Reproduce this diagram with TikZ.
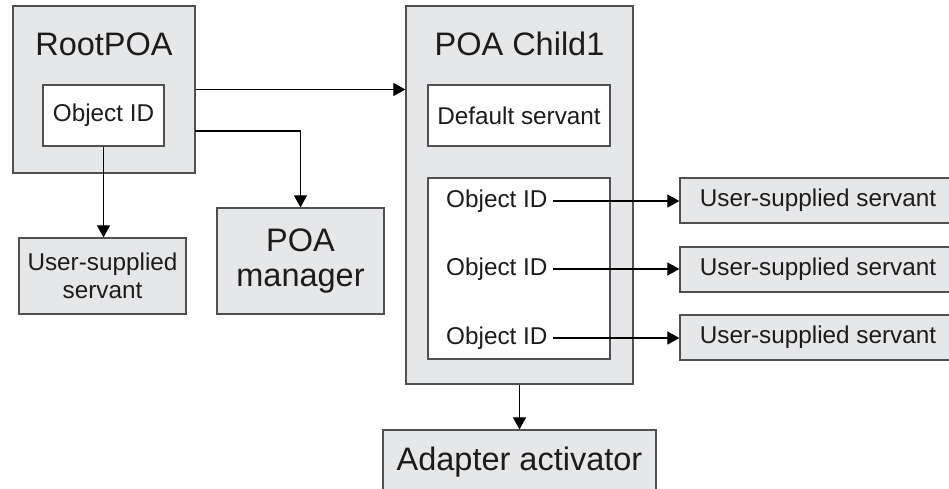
\documentclass[tikz,border=0pt]{standalone}
\usepackage{fontspec}
\setmainfont{Liberation Sans}
\usepackage{xcolor}
\usetikzlibrary{arrows.meta}

\definecolor{boxgray}{RGB}{230,231,232}
\definecolor{edgegray}{RGB}{80,80,80}
\definecolor{inkgray}{RGB}{30,27,28}

\begin{document}
\begin{tikzpicture}[x=1pt,y=-1pt]
\tikzset{big/.style={font=\fontsize{32.5}{35}\selectfont,text=inkgray}}
\tikzset{small/.style={font=\fontsize{24.3}{28}\selectfont,text=inkgray}}
\tikzset{graybox/.style={draw=edgegray,fill=boxgray,line width=1.3pt,inner sep=0pt,align=center}}
\tikzset{whitebox/.style={draw=edgegray,fill=white,line width=1.3pt,inner sep=0pt,align=center}}
\tikzset{link/.style={line width=1.2pt,-{Triangle[length=12pt,width=13pt]}}}

\clip (0,0) rectangle (949,488);
\fill[white] (0,0) rectangle (949,488);

% RootPOA side
\node[graybox,minimum width=182pt,minimum height=167pt] (root) at (104,89.5) {};
\node[big,anchor=base] (roottitle) at (104,55) {RootPOA};
\node[whitebox,small,minimum width=121pt,minimum height=61pt] (rootoid) at (103.5,115.5) {Object ID};
\node[graybox,small,minimum width=167pt,minimum height=76pt] (rootusr) at (102.5,276) {User-supplied\\servant};
\node[graybox,big,minimum width=167pt,minimum height=106pt] (manager) at (300.5,261) {POA\\manager};
\coordinate (mgrout) at (195,131);

% POA Child1 side
\node[graybox,minimum width=227pt,minimum height=378pt] (child) at (519.5,195) {};
\node[big,anchor=base] (childtitle) at (519.5,55) {POA Child1};
\node[whitebox,small,minimum width=182pt,minimum height=61pt] (default) at (519,115.5) {Default servant};
\node[whitebox,minimum width=182pt,minimum height=181pt] (oidlist) at (519,268.5) {};
\node[small,anchor=west,inner sep=5pt] (oidA) at (441,201) {Object ID};
\node[small,anchor=west,inner sep=5pt] (oidB) at (441,269) {Object ID};
\node[small,anchor=west,inner sep=5pt] (oidC) at (441,338) {Object ID};
\node[graybox,small,minimum width=276pt,minimum height=45pt] (usrA) at (818,200.5) {User-supplied servant};
\node[graybox,small,minimum width=276pt,minimum height=45pt] (usrB) at (818,269.5) {User-supplied servant};
\node[graybox,small,minimum width=276pt,minimum height=45pt] (usrC) at (818,337.5) {User-supplied servant};
\node[graybox,big,minimum width=273pt,minimum height=64pt] (adapter) at (519.5,462) {Adapter activator};

\draw[link] (root.east) -- (root.east -| child.west);
\draw[link] (mgrout) -| (manager.north);
\draw[link] (rootoid.south) -- (rootoid.south |- rootusr.north);
\draw[link] (oidA.east) -- (oidA.east -| usrA.west);
\draw[link] (oidB.east) -- (oidB.east -| usrB.west);
\draw[link] (oidC.east) -- (oidC.east -| usrC.west);
\draw[link] (child.south) -- (adapter.north);

\end{tikzpicture}
\end{document}
